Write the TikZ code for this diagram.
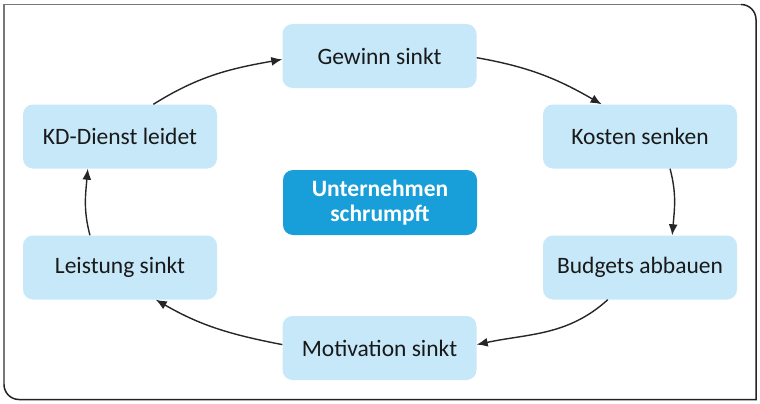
\documentclass[tikz,border=0pt]{standalone}
\usepackage{fontspec}
\setmainfont{Carlito}
\usetikzlibrary{arrows.meta}
\definecolor{boxblue}{RGB}{198,232,249}
\definecolor{midblue}{RGB}{24,158,217}
\definecolor{framegrey}{RGB}{120,120,120}
\definecolor{framedark}{RGB}{35,35,35}
\tikzset{
  stage/.style={rectangle, rounded corners=10pt, fill=boxblue, minimum width=194pt,
    minimum height=64pt, font=\fontsize{23.5}{27}\selectfont, text=black!90},
  core/.style={stage, fill=midblue, text=white, align=center, font=\fontsize{23.5}{25}\selectfont\bfseries},
  flow/.style={->, line width=1.4pt, draw=black!85},
}
\begin{document}
\begin{tikzpicture}[x=1pt, y=-1pt, >={Latex[length=11pt,width=9pt]}]
\useasboundingbox (0,0) rectangle (760,404);

%%%%%%%%%%%% Rahmen
\draw[framegrey, line width=1.5pt] (4,384.5) -- (4,4.5) -- (741,4.5);
\draw[framedark, line width=1.5pt] (741,4.5) to[out=0,in=90] (756,19.5) -- (756,399.5)
  -- (19,399.5) to[out=180,in=-90] (4,384.5);

%%%%%%%%%%%% Kreislauf
\node[stage] (gewinn) at (379.5,56) {Gewinn sinkt};
\node[stage] (kosten) at (640,136.5) {Kosten senken};
\node[stage] (budgets) at (640,267.5) {Budgets abbauen};
\node[stage] (motivation) at (379.5,348) {Motivation sinkt};
\node[stage] (leistung) at (120,267.5) {Leistung sinkt};
\node[stage] (kddienst) at (120,136.5) {KD-Dienst leidet};
\node[core, minimum height=65pt] (mitte) at (380,202.5) {Unternehmen\\schrumpft};

\draw[flow] (kddienst.44) to[out=32,in=190] (gewinn.182);
\draw[flow] (gewinn.-1) to[out=-10,in=150] (kosten.140);
\draw[flow] (kosten.-47) to[out=-75,in=85] (budgets.45);
\draw[flow] (budgets.225) to[out=222,in=12] (motivation.2);
\draw[flow] (motivation.178) to[out=169,in=-30] (leistung.-42);
\draw[flow] (leistung.133) to[out=105,in=-95] (kddienst.225);
\end{tikzpicture}
\end{document}
